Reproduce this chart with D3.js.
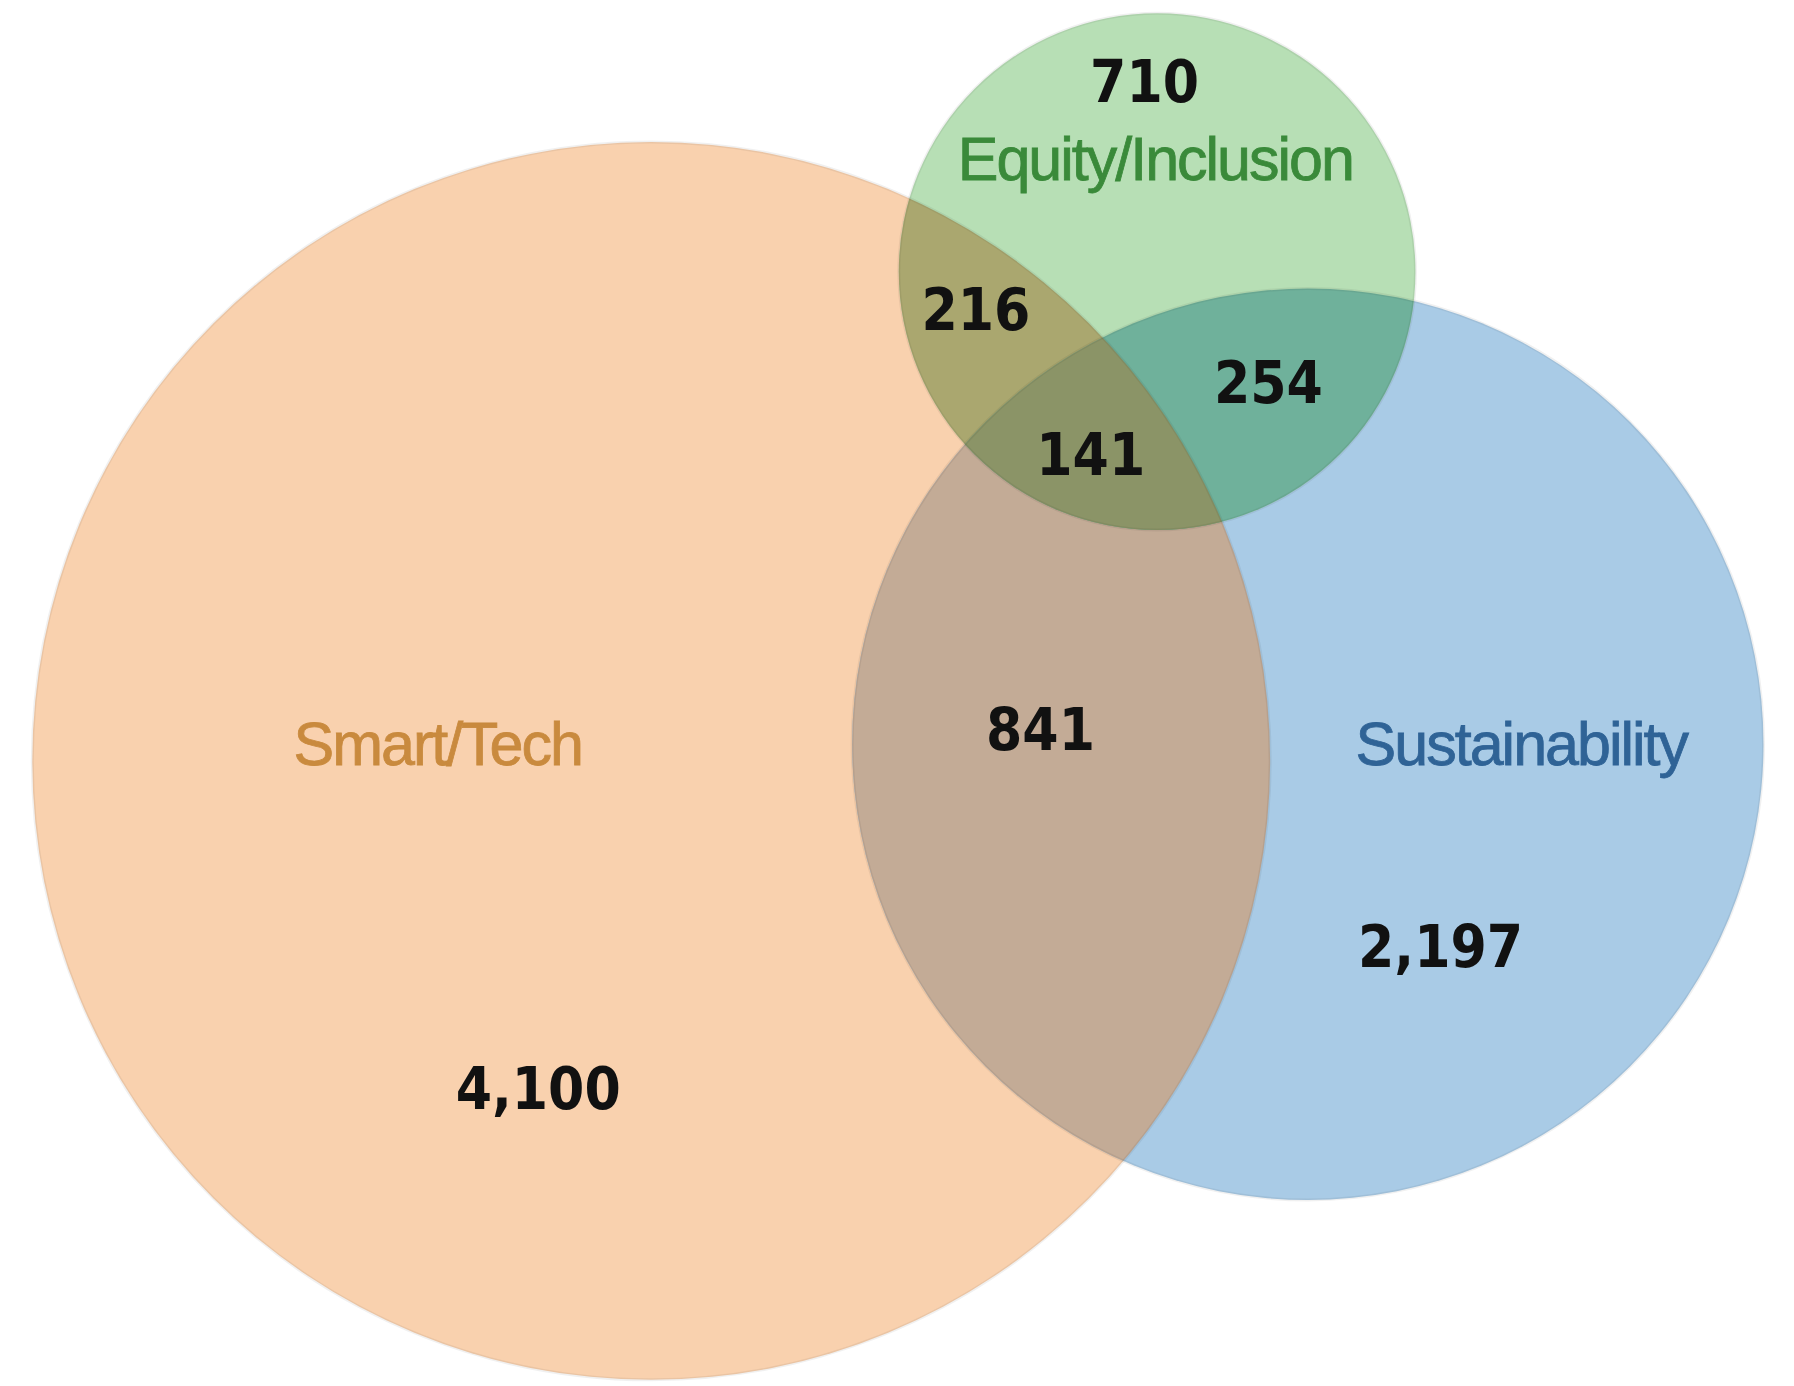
<!DOCTYPE html>
<html><head><meta charset="utf-8">
<script src="https://cdn.jsdelivr.net/npm/d3@7"></script>
<style>body{margin:0;background:#fff}svg{display:block}</style></head>
<body><svg id="c" width="1794" height="1386"></svg>
<script>
const setNames = ["Smart/Tech","Sustainability","Equity/Inclusion"];
const setColors = ["#f9d1ae","#a9cbe6","#b7dfb5"];
const labelColors = ["#c98a3e","#2f6396","#3a8a3a"];
const regionKeys = ["S","U","E","SU","SE","UE","SUE"];
const regionCounts = [4100,2197,710,841,216,254,141];
const regionColors = {SU:"#c3ab96",SE:"#aaa76f",UE:"#6fb19b",SUE:"#8b9467"};

// layout (unit space 0..100 mapped by scales)
const layoutCircles = [{cx:36.3,cy:54.9,r:34.5},{cx:72.9,cy:53.7,r:25.4},{cx:64.5,cy:19.6,r:14.4}];
const layoutRegionLabels = {S:[30,78.6],U:[80.3,68.3],E:[63.8,5.9],SU:[58,52.7],SE:[54.4,22.4],UE:[70.7,27.6],SUE:[60.8,32.8]};
const layoutSetLabels = [[24.4,53.7],[84.8,53.7],[64.4,11.5]];

const x = d3.scaleLinear().domain([0,100]).range([0,1794]);
const y = d3.scaleLinear().domain([0,100]).range([0,1386]);
const rs = d3.scaleLinear().domain([0,100]).range([0,1794]);

const svg = d3.select("#c");
const defs = svg.append("defs");
const circ = layoutCircles.map(c=>({cx:x(c.cx),cy:y(c.cy),r:rs(c.r)}));
circ.forEach((c,i)=>{
  defs.append("clipPath").attr("id","clip"+i).append("circle").attr("cx",c.cx).attr("cy",c.cy).attr("r",c.r);
});
function drawCircle(g,i,fill){return g.append("circle").attr("cx",circ[i].cx).attr("cy",circ[i].cy).attr("r",circ[i].r).attr("fill",fill);}
circ.forEach((c,i)=>drawCircle(svg,i,setColors[i]));
drawCircle(svg.append("g").attr("clip-path","url(#clip1)"),0,regionColors.SU);
drawCircle(svg.append("g").attr("clip-path","url(#clip2)"),0,regionColors.SE);
drawCircle(svg.append("g").attr("clip-path","url(#clip2)"),1,regionColors.UE);
drawCircle(svg.append("g").attr("clip-path","url(#clip2)").append("g").attr("clip-path","url(#clip1)"),0,regionColors.SUE);
circ.forEach((c,i)=>svg.append("circle").attr("cx",c.cx).attr("cy",c.cy).attr("r",c.r).attr("fill","none").attr("stroke","rgba(0,0,0,0.06)").attr("stroke-width",3));

const fmt = d3.format(",");
regionKeys.forEach((k,i)=>{
  const p = layoutRegionLabels[k];
  svg.append("text").attr("x",x(p[0])).attr("y",y(p[1])).attr("text-anchor","middle").attr("dominant-baseline","central")
    .attr("font-family","'DejaVu Sans Condensed','DejaVu Sans',sans-serif").attr("font-weight","bold").attr("font-size",58)
    .attr("fill","#111").text(fmt(regionCounts[i]));
});
setNames.forEach((n,i)=>{
  const p = layoutSetLabels[i];
  svg.append("text").attr("x",x(p[0])).attr("y",y(p[1])).attr("text-anchor","middle").attr("dominant-baseline","central")
    .attr("font-family","'Liberation Sans',Arial,sans-serif").attr("font-size",61).attr("letter-spacing",-2)
    .attr("stroke",labelColors[i]).attr("stroke-width",0.8)
    .attr("fill",labelColors[i]).text(n);
});
</script></body></html>
